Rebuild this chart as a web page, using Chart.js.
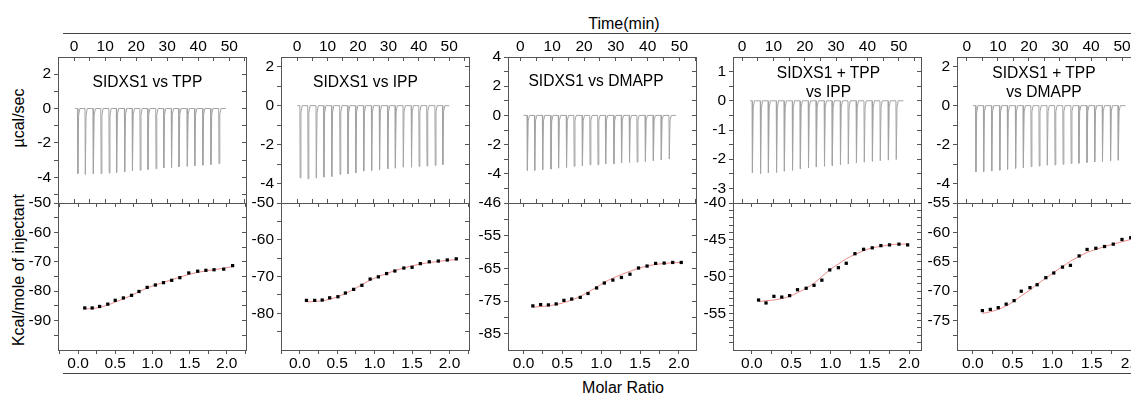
<!DOCTYPE html>
<html>
<head>
<meta charset="utf-8">
<script src="https://cdn.jsdelivr.net/npm/chart.js@4.4.1/dist/chart.umd.min.js"></script>
<style>
  body { margin: 0; background: #fff; font-family: "Liberation Sans", Arial, sans-serif; color: #000; }
  #fig { position: relative; width: 1131px; height: 394px; overflow: hidden; }
  #fig canvas { position: absolute; }
  .lbl { position: absolute; font-size: 16px; line-height: 18px; white-space: nowrap; text-align: center; }
  .ttl { position: absolute; font-size: 15.6px; line-height: 19px; white-space: nowrap; text-align: center; width: 200px; }
  .rule { position: absolute; left: 63px; width: 1068px; border-top: 1.5px solid #444; }
</style>
</head>
<body>
<div id="fig">
  <div class="rule" style="top:33px"></div>
  <div class="lbl" style="left:524px;width:200px;top:14.5px">Time(min)</div>
  <div class="rule" style="top:372.5px"></div>
  <div class="lbl" style="left:523px;width:200px;top:379px">Molar Ratio</div>
  <div class="lbl" style="left:-81px;width:200px;top:109px;transform:rotate(-90deg)">µcal/sec</div>
  <div class="lbl" style="left:-81px;width:200px;top:261px;transform:rotate(-90deg)">Kcal/mole of injectant</div>
</div>
<script>
// ---- shared axis ticks ----
const timeTicks = [0, 10, 20, 30, 40, 50];
const timeLabels = ['0', '10', '20', '30', '40', '50'];
const timeMinor = [-5, 5, 15, 25, 35, 45, 55];
const ratioTicks = [0, 0.5, 1, 1.5, 2];
const ratioLabels = ['0.0', '0.5', '1.0', '1.5', '2.0'];
const ratioMinor = [-0.25, 0.25, 0.75, 1.25, 1.75, 2.25];

// ---- panel 1: SIDXS1 vs TPP ----
const p1Title = ['SIDXS1 vs TPP'];
const p1Inj = [1.1, 3.5, 6.1, 8.6, 11.2, 13.6, 16.2, 18.7, 21.2, 23.7, 26.3, 28.8, 31.3, 33.7, 36.4, 38.8, 41.4, 44.0, 46.6];
const p1Peak = [-3.79, -3.84, -3.79, -3.79, -3.75, -3.73, -3.69, -3.63, -3.59, -3.55, -3.50, -3.46, -3.44, -3.40, -3.36, -3.34, -3.30, -3.26, -3.20];
const p1Span = [0.3, 48.9];
const p1Ratio = [0.09, 0.19, 0.29, 0.40, 0.50, 0.61, 0.72, 0.82, 0.93, 1.04, 1.15, 1.26, 1.37, 1.49, 1.61, 1.72, 1.83, 1.96, 2.08];
const p1Heat = [-85.7, -85.7, -85.2, -84.4, -83.1, -82.3, -81.4, -80.1, -78.7, -77.9, -77.1, -76.3, -75.4, -73.8, -73.2, -72.9, -72.7, -72.5, -71.3];
const p1Fit = [-86.0, -85.9, -85.5, -84.7, -83.7, -82.6, -81.4, -80.2, -78.9, -77.9, -77.0, -76.1, -75.2, -74.3, -73.6, -73.1, -72.7, -72.2, -71.6];
const p1PowerTicks = [2, 0, -2, -4], p1PowerLabels = ['2', '0', '-2', '-4'], p1PowerMinor = [1, -1, -3, -5];
const p1HeatTicks = [-50, -60, -70, -80, -90], p1HeatLabels = ['-50', '-60', '-70', '-80', '-90'], p1HeatMinor = [-55, -65, -75, -85, -95];

// ---- panel 2: SIDXS1 vs IPP ----
const p2Title = ['SIDXS1 vs IPP'];
const p2Inj = [0.9, 3.5, 6.2, 8.7, 11.3, 14.0, 16.6, 19.2, 21.8, 24.4, 27.0, 29.7, 32.2, 34.8, 37.5, 40.0, 42.6, 45.3, 47.8];
const p2Peak = [-3.71, -3.76, -3.72, -3.67, -3.64, -3.53, -3.50, -3.45, -3.36, -3.33, -3.28, -3.24, -3.21, -3.16, -3.16, -3.12, -3.10, -3.07, -3.03];
const p2Span = [0, 50];
const p2Ratio = [0.09, 0.20, 0.30, 0.40, 0.51, 0.61, 0.72, 0.83, 0.94, 1.05, 1.16, 1.27, 1.39, 1.50, 1.61, 1.73, 1.85, 1.97, 2.09];
const p2Heat = [-76.5, -76.5, -76.4, -75.8, -75.5, -74.5, -73.5, -72.4, -70.7, -70.1, -69.2, -68.5, -67.7, -67.5, -66.5, -66.0, -65.8, -65.5, -65.2];
const p2Fit = [-76.9, -76.8, -76.6, -76.2, -75.5, -74.6, -73.5, -72.2, -71.0, -70.0, -69.2, -68.4, -67.7, -67.1, -66.6, -66.2, -65.9, -65.6, -65.4];
const p2PowerTicks = [2, 0, -2, -4], p2PowerLabels = ['2', '0', '-2', '-4'], p2PowerMinor = [1, -1, -3, -5];
const p2HeatTicks = [-50, -60, -70, -80], p2HeatLabels = ['-50', '-60', '-70', '-80'], p2HeatMinor = [-55, -65, -75, -85];

// ---- panel 3: SIDXS1 vs DMAPP ----
const p3Title = ['SIDXS1 vs DMAPP'];
const p3Inj = [2.1, 4.4, 6.9, 9.5, 11.9, 14.4, 16.8, 19.4, 21.8, 24.3, 26.7, 29.3, 31.7, 34.2, 36.6, 39.2, 41.7, 44.2, 46.7];
const p3Peak = [-3.77, -3.77, -3.72, -3.68, -3.61, -3.56, -3.49, -3.45, -3.38, -3.38, -3.33, -3.31, -3.26, -3.22, -3.20, -3.15, -3.10, -3.03, -2.99];
const p3Span = [1.0, 48.9];
const p3Ratio = [0.12, 0.22, 0.32, 0.42, 0.52, 0.62, 0.73, 0.83, 0.94, 1.04, 1.15, 1.26, 1.37, 1.48, 1.59, 1.70, 1.81, 1.92, 2.03];
const p3Heat = [-76.5, -76.1, -76.2, -75.9, -74.8, -74.4, -73.9, -72.7, -71.0, -69.5, -68.6, -67.8, -66.8, -64.9, -64.3, -63.5, -63.4, -63.2, -63.2];
const p3Fit = [-76.9, -76.7, -76.5, -76.1, -75.5, -74.7, -73.6, -72.3, -70.8, -69.3, -68.0, -66.9, -65.9, -65.0, -64.3, -63.8, -63.5, -63.3, -63.2];
const p3PowerTicks = [4, 2, 0, -2, -4], p3PowerLabels = ['4', '2', '0', '-2', '-4'], p3PowerMinor = [3, 1, -1, -3, -5];
const p3HeatTicks = [-45, -55, -65, -75, -85], p3HeatLabels = ['-46', '-55', '-65', '-75', '-85'], p3HeatMinor = [-50, -60, -70, -80];

// ---- panel 4: SIDXS1 + TPP vs IPP ----
const p4Title = ['SIDXS1 + TPP', 'vs IPP'];
const p4Inj = [3.2, 5.8, 8.3, 10.9, 13.4, 16.0, 18.5, 21.1, 23.6, 26.2, 28.7, 31.3, 33.8, 36.4, 38.9, 41.5, 44.0, 46.6, 49.1];
const p4Peak = [-2.47, -2.49, -2.47, -2.45, -2.41, -2.38, -2.33, -2.30, -2.26, -2.24, -2.22, -2.18, -2.16, -2.13, -2.10, -2.07, -2.05, -2.03, -2.01];
const p4Span = [2.5, 51.5];
const p4Ratio = [0.085, 0.18, 0.28, 0.38, 0.48, 0.58, 0.69, 0.79, 0.89, 0.99, 1.10, 1.20, 1.31, 1.42, 1.53, 1.64, 1.75, 1.87, 1.98];
const p4Heat = [-53.2, -53.6, -52.7, -52.8, -52.6, -51.8, -51.6, -51.2, -50.5, -49.1, -48.8, -48.2, -46.9, -46.3, -46.1, -45.8, -45.7, -45.6, -45.7];
const p4Fit = [-53.4, -53.3, -53.2, -53.0, -52.7, -52.2, -51.6, -50.9, -50.0, -49.1, -48.3, -47.6, -47.0, -46.5, -46.1, -45.9, -45.7, -45.6, -45.6];
const p4PowerTicks = [1, 0, -1, -2, -3], p4PowerLabels = ['1', '0', '-1', '-2', '-3'], p4PowerMinor = [0.5, -0.5, -1.5, -2.5];
const p4HeatTicks = [-40, -45, -50, -55], p4HeatLabels = ['-40', '-45', '-50', '-55'];
const p4HeatMinor = [-41, -42, -43, -44, -46, -47, -48, -49, -51, -52, -53, -54, -56, -57, -58, -59];

// ---- panel 5: SIDXS1 + TPP vs DMAPP ----
const p5Title = ['SIDXS1 + TPP', 'vs DMAPP'];
const p5Inj = [2.8, 5.3, 7.9, 10.5, 13.0, 15.6, 18.1, 20.6, 23.2, 25.8, 28.3, 30.9, 33.5, 36.0, 38.6, 41.1, 43.6, 46.2, 48.7];
const p5Peak = [-3.39, -3.39, -3.36, -3.32, -3.27, -3.22, -3.18, -3.13, -3.10, -3.06, -3.04, -3.01, -2.97, -2.96, -2.92, -2.89, -2.87, -2.83, -2.80];
const p5Span = [1.9, 51.1];
const p5Ratio = [0.12, 0.22, 0.32, 0.42, 0.52, 0.61, 0.72, 0.81, 0.92, 1.02, 1.13, 1.23, 1.34, 1.44, 1.55, 1.66, 1.77, 1.88, 1.99];
const p5Heat = [-73.3, -73.1, -72.8, -72.2, -71.6, -70.0, -69.4, -68.9, -67.7, -66.9, -65.9, -65.6, -64.0, -62.9, -62.7, -62.4, -62.0, -61.2, -60.9];
const p5Fit = [-73.8, -73.5, -73.1, -72.5, -71.7, -70.8, -69.8, -68.8, -67.8, -66.8, -65.8, -64.9, -64.1, -63.4, -62.9, -62.4, -62.0, -61.6, -61.2];
const p5PowerTicks = [2, 0, -2, -4], p5PowerLabels = ['2', '0', '-2', '-4'], p5PowerMinor = [1, -1, -3];
const p5HeatTicks = [-55, -60, -65, -70, -75], p5HeatLabels = ['-55', '-60', '-65', '-70', '-75'], p5HeatMinor = [-57.5, -62.5, -67.5, -72.5, -77.5];

const panels = [
  { title: p1Title, inj: p1Inj, peak: p1Peak, span: p1Span, ratio: p1Ratio, heat: p1Heat, fit: p1Fit,
    timeLim: [-5.2, 55.4], powerLim: [-5.5, 3], ratioLim: [-0.27, 2.26], heatLim: [-100, -50],
    power: [p1PowerTicks, p1PowerLabels, p1PowerMinor], heatAx: [p1HeatTicks, p1HeatLabels, p1HeatMinor] },
  { title: p2Title, inj: p2Inj, peak: p2Peak, span: p2Span, ratio: p2Ratio, heat: p2Heat, fit: p2Fit,
    timeLim: [-5.3, 56.5], powerLim: [-5, 2.5], ratioLim: [-0.25, 2.26], heatLim: [-90, -50],
    power: [p2PowerTicks, p2PowerLabels, p2PowerMinor], heatAx: [p2HeatTicks, p2HeatLabels, p2HeatMinor] },
  { title: p3Title, inj: p3Inj, peak: p3Peak, span: p3Span, ratio: p3Ratio, heat: p3Heat, fit: p3Fit,
    timeLim: [-3.9, 55.2], powerLim: [-6, 4], ratioLim: [-0.2, 2.22], heatLim: [-90, -45],
    power: [p3PowerTicks, p3PowerLabels, p3PowerMinor], heatAx: [p3HeatTicks, p3HeatLabels, p3HeatMinor] },
  { title: p4Title, inj: p4Inj, peak: p4Peak, span: p4Span, ratio: p4Ratio, heat: p4Heat, fit: p4Fit,
    timeLim: [-2.9, 57.1], powerLim: [-3.5, 1.5], ratioLim: [-0.24, 2.15], heatLim: [-60, -40],
    power: [p4PowerTicks, p4PowerLabels, p4PowerMinor], heatAx: [p4HeatTicks, p4HeatLabels, p4HeatMinor] },
  { title: p5Title, inj: p5Inj, peak: p5Peak, span: p5Span, ratio: p5Ratio, heat: p5Heat, fit: p5Fit,
    timeLim: [-3.2, 57.4], powerLim: [-5, 2.5], ratioLim: [-0.2, 2.17], heatLim: [-80, -55],
    power: [p5PowerTicks, p5PowerLabels, p5PowerMinor], heatAx: [p5HeatTicks, p5HeatLabels, p5HeatMinor] }
];

// layout (page pixels)
const boxLeft = [58, 281, 508, 733, 957];
const titleX = [147.5, 365.5, 596, 828.5, 1044];
const titleY = [81.5, 81, 80, 72, 72];
const boxW = 188, yTop = 57, yMid = 203, yBot = 350;
const axisW = 45, padR = 8, topAxisH = 22, botAxisH = 24, pad = 12;
const ink = '#555';
const tickFont = { family: '"Liberation Sans", Arial, sans-serif', size: 15.5 };
// shape of one injection peak: [time offset (min), fraction of peak depth]
const spikeShape = [[0, 0], [0.1, 1], [0.35, 0.1], [0.75, 0]];

const fig = document.getElementById('fig');

function addCanvas(left, top, w, h) {
  const c = document.createElement('canvas');
  c.width = w; c.height = h;
  c.style.left = left + 'px'; c.style.top = top + 'px';
  fig.appendChild(c);
  return c;
}

function trace(times, peaks, span) {
  const pts = [{ x: span[0], y: 0 }];
  times.forEach((t, i) => {
    spikeShape.forEach(s => pts.push({ x: t + s[0], y: peaks[i] * s[1] }));
  });
  pts.push({ x: span[1], y: 0 });
  return pts;
}

function axis(pos, lim, major, labels, minor, size, showLabels, inward) {
  const horiz = pos === 'top' || pos === 'bottom';
  return {
    type: 'linear', position: pos, min: lim[0], max: lim[1],
    afterBuildTicks: s => {
      s.ticks = major.concat(minor)
        .filter(v => v >= lim[0] - 1e-9 && v <= lim[1] + 1e-9)
        .sort((a, b) => a - b)
        .map(v => ({ value: v }));
    },
    afterFit: s => {
      if (horiz) s.height = size; else s.width = size;
      s.paddingLeft = s.paddingRight = s.paddingTop = s.paddingBottom = 0;
    },
    grid: { drawOnChartArea: false, drawTicks: true, tickLength: inward ? -4 : 4, color: ink, lineWidth: 1 },
    border: { display: true, color: ink, width: 1 },
    ticks: {
      display: showLabels, autoSkip: false, maxRotation: 0, minRotation: 0,
      color: '#000', font: tickFont,
      padding: pos === 'top' ? 5 : pos === 'bottom' ? 0 : 3,
      callback: v => {
        const i = major.findIndex(m => Math.abs(m - v) < 1e-9);
        return i < 0 ? '' : labels[i];
      }
    }
  };
}

const base = {
  responsive: false, animation: false, events: [],
  plugins: { legend: { display: false }, tooltip: { enabled: false } }
};

function drawPower(i) {
  const p = panels[i];
  const c = addCanvas(boxLeft[i] - axisW, yTop - topAxisH, axisW + boxW + padR, topAxisH + (yMid - yTop) + pad);
  new Chart(c, {
    type: 'scatter',
    data: { datasets: [{ data: trace(p.inj, p.peak, p.span), showLine: true, borderColor: '#a3a3a3', borderWidth: 1, pointRadius: 0 }] },
    options: Object.assign({}, base, {
      layout: { padding: { top: 0, left: 0, right: padR, bottom: pad } },
      scales: {
        x: axis('top', p.timeLim, timeTicks, timeLabels, timeMinor, topAxisH, true, true),
        xb: axis('bottom', p.timeLim, timeTicks, timeLabels, timeMinor, 0, false, true),
        y: axis('left', p.powerLim, p.power[0], p.power[1], p.power[2], axisW, true, false),
        yr: axis('right', p.powerLim, p.power[0], p.power[1], p.power[2], 0, false, true)
      }
    })
  });
}

function drawHeat(i) {
  const p = panels[i];
  const c = addCanvas(boxLeft[i] - axisW, yMid - pad, axisW + boxW + padR, pad + (yBot - yMid) + botAxisH);
  const dots = p.ratio.map((r, k) => ({ x: r, y: p.heat[k] }));
  const curve = p.ratio.map((r, k) => ({ x: r, y: p.fit[k] }));
  new Chart(c, {
    type: 'scatter',
    data: { datasets: [
      { data: dots, pointStyle: 'rect', pointRadius: 2.3, pointBackgroundColor: '#000', pointBorderColor: '#000', pointBorderWidth: 0 },
      { data: curve, showLine: true, borderColor: '#ee8a8a', borderWidth: 1, pointRadius: 0, tension: 0.4, cubicInterpolationMode: 'monotone' }
    ] },
    options: Object.assign({}, base, {
      layout: { padding: { top: pad, left: 0, right: padR, bottom: 0 } },
      scales: {
        x: axis('bottom', p.ratioLim, ratioTicks, ratioLabels, ratioMinor, botAxisH, true, false),
        xt: axis('top', p.ratioLim, ratioTicks, ratioLabels, ratioMinor, 0, false, true),
        y: axis('left', p.heatLim, p.heatAx[0], p.heatAx[1], p.heatAx[2], axisW, true, false),
        yr: axis('right', p.heatLim, p.heatAx[0], p.heatAx[1], p.heatAx[2], 0, false, true)
      }
    })
  });
}

panels.forEach((p, i) => {
  drawPower(i);
  drawHeat(i);
  const t = document.createElement('div');
  t.className = 'ttl';
  t.style.left = (titleX[i] - 100) + 'px';
  t.style.top = (titleY[i] - 9.3) + 'px';
  t.innerHTML = p.title.join('<br>');
  fig.appendChild(t);
});
</script>
</body>
</html>
